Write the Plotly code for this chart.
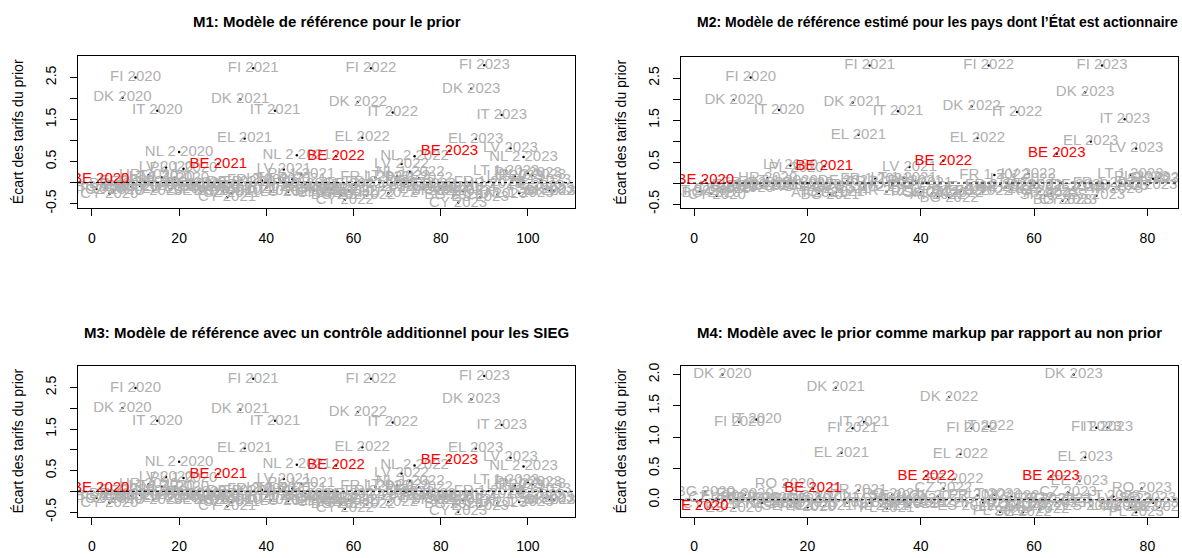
import plotly.graph_objects as go

W, H = 1182, 558
FONT = "Liberation Sans, Arial, Helvetica, sans-serif"
GRAY = "#B0B0B0"
RED = "#FF0000"

years = ["2020", "2021", "2022", "2023"]

# ---------------- M1 ----------------
m1_countries_2020 = ["AT", "BE", "BG", "CY", "CZ", "DE", "DK", "EL", "ES", "FI", "FR 1", "FR 2", "HR", "HU",
                     "IT", "LT 1", "LV", "LU", "NL 1", "NL 2", "PL 1", "PL 2", "PT", "RO", "SE", "SI", "SK"]
m1_countries_2021 = list(m1_countries_2020)
m1_countries_2022 = [c for c in m1_countries_2020 if c != "SE"]
m1_countries_2023 = [c for c in m1_countries_2020 if c != "FR 2"]

m1_values_2020 = [-0.15, 0.08, -0.12, -0.27, -0.18, -0.05, 2.02, 0.03, -0.10, 2.50, -0.08, 0.02, 0.18, -0.20,
                  1.71, 0.12, 0.36, -0.15, 0.10, 0.73, 0.33, -0.10, -0.05, -0.02, -0.20, -0.12, -0.08]
m1_values_2021 = [-0.10, 0.44, -0.20, -0.35, -0.25, 0.02, 1.98, 1.05, -0.15, 2.72, 0.00, 0.05, -0.12, -0.20,
                  1.71, 0.08, 0.31, -0.22, 0.08, 0.65, 0.20, -0.05, -0.12, -0.18, -0.10, -0.25, -0.15]
m1_values_2022 = [-0.15, 0.63, -0.30, -0.41, -0.20, -0.05, 1.92, 1.07, -0.30, 2.72, 0.12, 0.00, -0.10, -0.25,
                  1.67, 0.15, 0.44, -0.02, 0.25, 0.63, 0.10, -0.15, -0.05, -0.10, -0.20, -0.12]
m1_values_2023 = [-0.12, 0.75, -0.30, -0.48, -0.20, -0.10, 2.23, 1.04, -0.35, 2.79, 0.02, -0.05, -0.28,
                  1.61, 0.28, 0.82, 0.15, -0.25, 0.61, 0.22, 0.18, -0.08, 0.05, -0.15, -0.20, -0.20]

# ---------------- M2 ----------------
m2_countries_2020 = ["AT", "BE", "BG", "CY", "CZ", "DE", "DK", "EL", "ES", "FI", "FR 1", "FR 2", "HR", "HU",
                     "IT", "LT 1", "LV", "PL", "RO", "SI", "SK"]
m2_countries_2021 = list(m2_countries_2020)
m2_countries_2022 = [c for c in m2_countries_2020 if c != "SK"]
m2_countries_2023 = [c for c in m2_countries_2020 if c != "FR 2"]

m2_values_2020 = [-0.20, 0.07, -0.25, -0.30, -0.15, -0.10, 1.98, -0.05, -0.12, 2.51, 0.00, -0.08, 0.12, -0.05,
                  1.74, 0.05, 0.42, 0.35, -0.10, 0.00, -0.05]
m2_values_2021 = [-0.25, 0.40, -0.28, -0.22, -0.15, 0.05, 1.92, 1.15, -0.10, 2.80, 0.10, 0.02, -0.20, -0.05,
                  1.71, 0.12, 0.38, 0.05, -0.22, 0.00, -0.25]
m2_values_2022 = [-0.30, 0.53, -0.35, -0.25, -0.20, -0.10, 1.83, 1.07, -0.20, 2.80, 0.19, -0.05, -0.10, -0.15,
                  1.69, 0.10, 0.22, -0.05, -0.20, -0.30]
m2_values_2023 = [-0.25, 0.70, -0.42, -0.40, -0.10, -0.05, 2.16, 0.99, -0.30, 2.80, 0.00, -0.15, -0.08,
                  1.52, 0.20, 0.82, 0.15, -0.05, 0.10, 0.12]

# ---------------- M3 ----------------
m3_countries_2020 = list(m1_countries_2020)
m3_countries_2021 = list(m1_countries_2021)
m3_countries_2022 = list(m1_countries_2022)
m3_countries_2023 = list(m1_countries_2023)

m3_values_2020 = [-0.16, 0.07, -0.13, -0.28, -0.18, -0.06, 2.01, 0.02, -0.11, 2.49, -0.09, 0.01, 0.17, -0.21,
                  1.70, 0.11, 0.35, -0.16, 0.09, 0.71, 0.32, -0.11, -0.06, -0.03, -0.21, -0.13, -0.09]
m3_values_2021 = [-0.11, 0.42, -0.21, -0.36, -0.26, 0.01, 1.97, 1.04, -0.16, 2.71, -0.01, 0.04, -0.13, -0.21,
                  1.70, 0.07, 0.30, -0.23, 0.07, 0.64, 0.19, -0.06, -0.13, -0.19, -0.11, -0.26, -0.16]
m3_values_2022 = [-0.16, 0.62, -0.31, -0.42, -0.21, -0.06, 1.91, 1.06, -0.31, 2.71, 0.11, -0.01, -0.11, -0.26,
                  1.66, 0.14, 0.43, -0.03, 0.24, 0.62, 0.09, -0.16, -0.06, -0.11, -0.21, -0.13]
m3_values_2023 = [-0.13, 0.74, -0.31, -0.49, -0.21, -0.11, 2.22, 1.03, -0.36, 2.78, 0.01, -0.06, -0.29,
                  1.60, 0.27, 0.81, 0.14, -0.26, 0.60, 0.21, 0.17, -0.09, 0.04, -0.16, -0.21, -0.21]

# ---------------- M4 ----------------
m4_countries_2020 = ["BE", "BG", "CY", "CZ", "DK", "EL", "ES", "FI", "FR", "HR", "IT", "LT", "LV", "NL", "PL",
                     "RO", "SE", "SI", "SK", "PT"]
m4_countries_2021 = ["BE", "BG", "CY", "CZ", "DK", "EL", "ES", "FI", "FR", "IT", "LT", "LV", "NL", "PL", "RO",
                     "SE", "SI", "SK", "HU", "PT"]
m4_countries_2022 = ["BE", "BG", "CY", "CZ", "DK", "EE", "EL", "ES", "FI", "FR", "HR", "IT", "LT", "PL", "LV",
                     "NL", "RO", "SE", "SI", "SK", "HU", "PT"]
m4_countries_2023 = ["BE", "BG", "CY", "CZ", "DK", "EE", "EL", "ES", "FI", "FR", "IT", "LT", "LU", "LV", "NL",
                     "PL", "RO", "SE", "SI", "SK"]

m4_values_2020 = [-0.10, 0.12, -0.08, 0.02, 2.00, 0.05, -0.13, 1.24, 0.08, 0.02, 1.28, -0.05, 0.03, -0.08, 0.00,
                  0.24, -0.10, -0.05, 0.00, -0.12]
m4_values_2021 = [0.18, 0.05, -0.10, 0.02, 1.79, 0.75, -0.05, 1.14, 0.15, 1.24, -0.05, 0.03, -0.10, -0.14, 0.08,
                  0.05, -0.02, -0.08, 0.00, -0.05]
m4_values_2022 = [0.38, -0.05, 0.05, 0.18, 1.64, 0.33, 0.73, -0.10, 1.14, 0.07, -0.05, 1.17, 0.08, -0.19, -0.12,
                  0.05, -0.08, -0.20, 0.02, -0.10, -0.15, 0.00]
m4_values_2023 = [0.37, -0.05, 0.00, 0.12, 2.00, 0.30, 0.68, -0.10, 1.15, -0.05, 1.15, 0.05, -0.10, 0.00, -0.12,
                  -0.20, 0.18, 0.02, -0.05, -0.12]

titles = [
    "M1: Modèle de référence pour le prior",
    "M2: Modèle de référence estimé pour les pays dont l’État est actionnaire",
    "M3: Modèle de référence avec un contrôle additionnel pour les SIEG",
    "M4: Modèle avec le prior comme markup par rapport au non prior",
]
y_title = "Écart des tarifs du prior"
highlight = "BE"


def build(country_lists, value_lists):
    xs, ys, labels = [], [], []
    i = 0
    for yr, cs, vs in zip(years, country_lists, value_lists):
        assert len(cs) == len(vs), (yr, len(cs), len(vs))
        for c, v in zip(cs, vs):
            i += 1
            xs.append(i)
            ys.append(v)
            labels.append((c, f"{c} {yr}"))
    return xs, ys, labels


panels = [
    build([m1_countries_2020, m1_countries_2021, m1_countries_2022, m1_countries_2023],
          [m1_values_2020, m1_values_2021, m1_values_2022, m1_values_2023]),
    build([m2_countries_2020, m2_countries_2021, m2_countries_2022, m2_countries_2023],
          [m2_values_2020, m2_values_2021, m2_values_2022, m2_values_2023]),
    build([m3_countries_2020, m3_countries_2021, m3_countries_2022, m3_countries_2023],
          [m3_values_2020, m3_values_2021, m3_values_2022, m3_values_2023]),
    build([m4_countries_2020, m4_countries_2021, m4_countries_2022, m4_countries_2023],
          [m4_values_2020, m4_values_2021, m4_values_2022, m4_values_2023]),
]

# layout geometry (pixels): left, right, top, bottom of each plot box
boxes = [(78, 575, 53, 208), (681, 1178, 54, 208), (78, 575, 369, 522), (681, 1178, 369, 522)]
xranges = [[-3.2, 110.8], [-2.3, 85.4], [-3.2, 110.8], [-2.3, 85.4]]
yranges = [[-0.61, 3.01], [-0.60, 3.00], [-0.61, 3.01], [-0.27, 2.13]]
xticks = [[0, 20, 40, 60, 80, 100], [0, 20, 40, 60, 80], [0, 20, 40, 60, 80, 100], [0, 20, 40, 60, 80]]
yticks = [[-0.5, 0, 0.5, 1, 1.5, 2, 2.5]] * 3 + [[0, 0.5, 1, 1.5, 2]]
yticktext = [["-0.5", "", "0.5", "", "1.5", "", "2.5"]] * 3 + [["0.0", "0.5", "1.0", "1.5", "2.0"]]
title_y = [18, 18, 334, 334]
title_size = [15, 14, 15, 15]
ytitle_x = [18, 621, 18, 621]

fig = go.Figure()
layout = dict(width=W, height=H, margin=dict(l=0, r=0, t=0, b=0), autosize=False,
              paper_bgcolor="white", plot_bgcolor="white", showlegend=False,
              font=dict(family=FONT, color="black"))
annotations = []
shapes = []

for k, (xs, ys, labels) in enumerate(panels):
    n = "" if k == 0 else str(k + 1)
    xa, ya = "x" + n, "y" + n
    gx = [x for x, (c, _) in zip(xs, labels) if c != highlight]
    gy = [y for y, (c, _) in zip(ys, labels) if c != highlight]
    gt = [t for (c, t) in labels if c != highlight]
    rx = [x for x, (c, _) in zip(xs, labels) if c == highlight]
    ry = [y for y, (c, _) in zip(ys, labels) if c == highlight]
    rt = [t for (c, t) in labels if c == highlight]
    fig.add_trace(go.Scatter(x=xs, y=ys, mode="markers", xaxis=xa, yaxis=ya,
                             marker=dict(color="black", size=2.5), hoverinfo="skip"))
    fig.add_trace(go.Scatter(x=gx, y=gy, text=gt, mode="text", xaxis=xa, yaxis=ya,
                             textposition="middle center",
                             textfont=dict(family=FONT, size=15, color=GRAY), hoverinfo="skip"))
    fig.add_trace(go.Scatter(x=rx, y=ry, text=rt, mode="text", xaxis=xa, yaxis=ya,
                             textposition="middle center",
                             textfont=dict(family=FONT, size=15, color=RED), hoverinfo="skip"))

    L, R, T, B = boxes[k]
    axis_common = dict(showgrid=False, zeroline=False, showline=True, mirror=True, linecolor="black",
                       linewidth=1, ticks="outside", ticklen=7, tickwidth=1, tickcolor="black",
                       tickfont=dict(family=FONT, size=14, color="black"))
    layout["xaxis" + n] = dict(axis_common, domain=[L / W, R / W], range=xranges[k], anchor=ya,
                               tickvals=xticks[k], ticklabelstandoff=10)
    layout["yaxis" + n] = dict(axis_common, domain=[1 - B / H, 1 - T / H], range=yranges[k], anchor=xa,
                               tickvals=yticks[k], ticktext=yticktext[k], tickangle=-90,
                               ticklabelstandoff=8)
    shapes.append(dict(type="line", xref=xa, yref=ya, x0=xranges[k][0], x1=xranges[k][1], y0=0, y1=0,
                       line=dict(color="black", width=1, dash="dot"), layer="above"))
    if k == 1:
        tx, anchor = 1180 / W, "right"
    else:
        tx, anchor = (L + R) / 2 / W, "center"
    annotations.append(dict(text="<b>" + titles[k] + "</b>", x=tx, y=1 - title_y[k] / H,
                            xref="paper", yref="paper", showarrow=False, xanchor=anchor, yanchor="middle",
                            font=dict(family=FONT, size=title_size[k], color="black")))
    annotations.append(dict(text=y_title, x=ytitle_x[k] / W, y=1 - (T + B) / 2 / H, xref="paper",
                            yref="paper", showarrow=False, textangle=-90, xanchor="center",
                            yanchor="middle", font=dict(family=FONT, size=14, color="black")))

layout["annotations"] = annotations
layout["shapes"] = shapes
fig.update_layout(**layout)
fig.write_html("out.html", config={"displayModeBar": False},
               post_script="document.body.style.margin='0';document.body.style.overflow='hidden';")
